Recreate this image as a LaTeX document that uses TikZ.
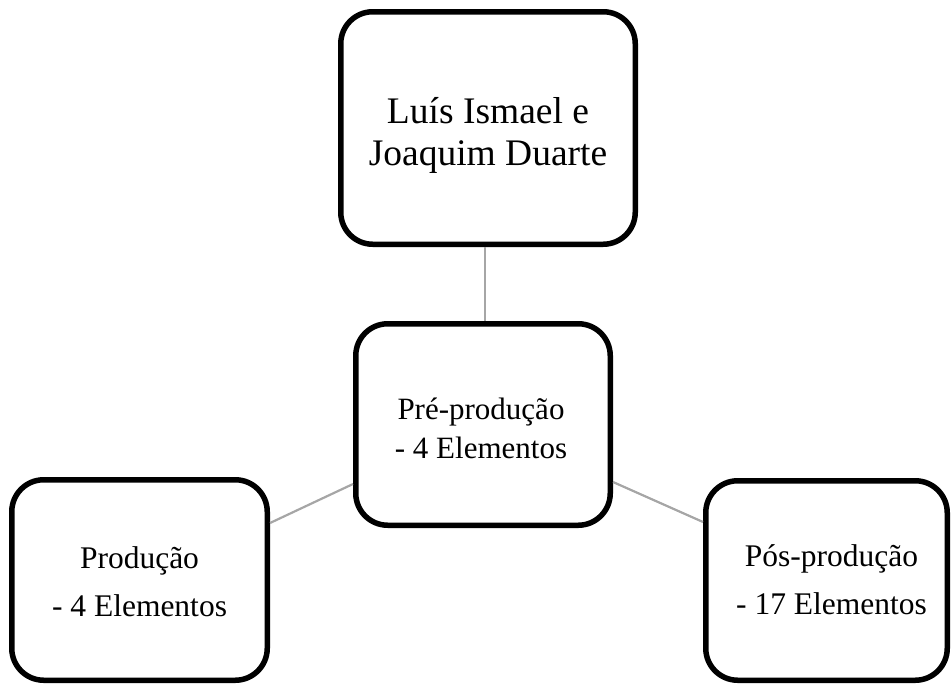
\documentclass[tikz,border=0pt]{standalone}
\usepackage{fontspec}
\setmainfont{Liberation Serif}
\newcommand{\boxtxt}[3]{\raisebox{#2}[\height][\depth]{\hspace*{#1}\begin{tabular}{@{}c@{}}#3\end{tabular}\hspace*{-#1}}}
\begin{document}
\begin{tikzpicture}[x=1pt,y=-1pt,
  box/.style={draw=black,line width=5.5pt,rounded corners=32pt,fill=white,inner sep=0pt,align=center},
  conn/.style={draw=black!35,line width=2.2pt}]
\useasboundingbox (0,0) rectangle (952,688);
\node[box,minimum width=294.5pt,minimum height=232.5pt,font=\fontsize{37.5}{42}\selectfont] (top) at (488,128) {\boxtxt{0pt}{-8pt}{Luís Ismael e\\Joaquim Duarte}};
\node[box,minimum width=254.5pt,minimum height=201.5pt,font=\fontsize{31}{39}\selectfont] (mid) at (483,424.5) {\boxtxt{-2pt}{-6.5pt}{Pré-produção\\- 4 Elementos}};
\node[box,minimum width=255.5pt,minimum height=200.5pt,font=\fontsize{31.5}{48}\selectfont] (left) at (139.5,580) {\boxtxt{0pt}{-2.5pt}{Produção\\- 4 Elementos}};
\node[box,minimum width=241.5pt,minimum height=199.5pt,font=\fontsize{31.5}{48}\selectfont] (right) at (826.5,580.5) {\boxtxt{5pt}{0pt}{Pós-produção\\- 17 Elementos}};
\coordinate (cx) at (485,0);
\draw[conn] (top.south -| cx) -- (mid.north -| cx);
\draw[conn] ([yshift=57pt]left.east) -- ([yshift=-59.5pt]mid.west);
\draw[conn] ([yshift=-57.5pt]mid.east) -- ([yshift=58.5pt]right.west);
\end{tikzpicture}
\end{document}
